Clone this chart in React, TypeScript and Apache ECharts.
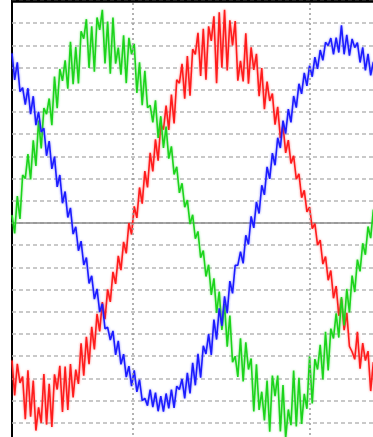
import React, { useEffect, useRef } from "react";
import * as echarts from "echarts";

// sample clock of the scope trace (ms)
const T0 = 3.2;
const DT = 0.15;

// vertical grid lines (ms)
const V_GRID = [10, 20];

const RED = [
  -6.19, -7.77, -6.34, -7.2, -6.92, -8.84, -6.64, -8.73, -7.1, -9.35,
  -8.3, -9.0, -6.8, -9.08, -7.24, -9.19, -6.82, -7.5, -6.43, -8.51,
  -6.47, -8.42, -6.35, -7.86, -6.6, -7.25, -5.42, -6.88, -5.13, -6.36,
  -4.68, -5.69, -4.09, -4.88, -3.56, -4.33, -2.99, -3.55, -2.2, -2.74,
  -1.48, -2.12, -0.85, -1.37, 0.0, -0.52, 0.75, 0.23, 1.6, 0.87,
  2.34, 1.6, 3.16, 2.32, 3.77, 2.81, 4.44, 4.2, 5.29, 4.19,
  5.79, 4.48, 6.45, 6.3, 7.17, 5.6, 7.52, 5.73, 7.83, 7.6,
  8.57, 6.62, 8.75, 6.46, 8.86, 8.2, 9.31, 6.3, 9.49, 7.0,
  9.6, 6.87, 9.13, 8.0, 9.1, 6.41, 7.3, 6.38, 8.54, 6.28,
  7.91, 6.9, 7.62, 5.71, 6.98, 5.13, 6.37, 5.5, 5.83, 4.43,
  5.23, 3.82, 4.39, 3.16, 3.73, 2.68, 3.03, 1.97, 2.21, 1.14,
  1.47, 0.5, 0.72, -0.25, -0.03, -1.0, -0.77, -1.85, -1.51, -2.58,
  -2.14, -3.39, -2.84, -4.18, -3.41, -4.83, -4.05, -5.56, -5.8, -6.14,
  -4.9, -6.56, -5.41, -6.2, -5.77, -7.57, -6.27, -7.84,
];

const GREEN = [
  0.35, -0.47, 1.21, 0.18, 2.16, 2.0, 3.1, 1.96, 3.72, 2.57,
  4.62, 3.36, 5.18, 4.9, 5.61, 4.41, 6.6, 5.17, 6.94, 6.4,
  7.33, 6.05, 8.16, 6.25, 7.93, 6.29, 8.64, 8.3, 9.18, 6.98,
  8.86, 6.82, 9.26, 8.7, 9.6, 7.19, 9.07, 6.72, 9.26, 7.18,
  7.9, 6.68, 8.45, 6.3, 8.34, 7.6, 8.07, 5.86, 7.24, 5.31,
  6.86, 5.19, 5.3, 4.53, 5.53, 3.83, 4.81, 3.38, 4.34, 2.9,
  3.45, 2.19, 2.53, 1.36, 1.79, 0.71, 1.03, -0.05, 0.37, -0.71,
  -0.38, -1.56, -1.24, -2.41, -1.88, -3.24, -2.49, -4.05, -3.09, -4.82,
  -3.65, -5.57, -4.17, -6.27, -6.0, -6.93, -5.19, -7.14, -5.37, -6.6,
  -6.1, -8.49, -6.36, -8.42, -7.6, -8.89, -7.1, -9.4, -6.87, -7.8,
  -6.87, -9.39, -7.3, -9.69, -8.4, -9.11, -6.65, -9.17, -6.97, -9.05,
  -7.7, -8.37, -6.01, -8.13, -6.13, -6.6, -5.49, -7.05, -4.9, -6.64,
  -4.76, -5.2, -4.07, -5.16, -3.34, -4.61, -2.97, -4.03, -2.37, -3.11,
  -1.65, -2.18, -0.91, -1.43, -0.16, -0.68, 0.6, 0.18,
];

const BLUE = [
  7.64, 6.45, 7.24, 5.92, 6.1, 5.33, 6.07, 4.9, 5.71, 4.41,
  5.01, 4.1, 4.27, 3.03, 3.69, 2.44, 2.99, 1.63, 2.16, 0.89,
  1.42, 0.25, 0.68, -0.5, -0.17, -1.25, -0.82, -1.89, -1.56, -2.72,
  -2.38, -3.43, -2.97, -4.01, -3.64, -4.76, -4.7, -5.27, -4.86, -5.94,
  -5.31, -6.37, -5.91, -6.94, -6.45, -7.35, -6.64, -7.61, -7.06, -8.0,
  -7.9, -8.23, -7.51, -8.29, -7.64, -8.48, -7.8, -8.5, -7.68, -8.35,
  -7.5, -8.33, -7.35, -7.5, -7.03, -7.9, -6.75, -7.68, -6.3, -7.31,
  -5.89, -6.97, -5.53, -5.9, -5.01, -5.94, -4.35, -5.25, -3.84, -4.63,
  -3.3, -4.06, -2.62, -3.17, -1.91, -1.9, -1.29, -1.82, -0.55, -0.97,
  0.3, -0.22, 0.95, 0.43, 1.7, 1.27, 2.53, 1.99, 3.15, 2.6,
  3.84, 3.38, 4.61, 4.03, 5.13, 4.53, 5.72, 5.2, 6.27, 5.82,
  6.76, 6.18, 7.09, 6.59, 7.47, 6.94, 7.79, 7.33, 8.14, 8.0,
  8.33, 7.6, 8.35, 7.68, 8.9, 7.6, 8.48, 7.54, 8.29, 7.9,
  8.13, 7.23, 7.91, 6.87, 7.62, 6.65, 7.26, 6.26,
];

const TIME = RED.map((_, i) => Number((T0 + DT * i).toFixed(2)));

const pairs = (vals: number[]) => TIME.map((t, i) => [t, vals[i]]);

export default function App() {
  const ref = useRef<HTMLDivElement>(null);

  useEffect(() => {
    if (!ref.current) return;
    const chart = echarts.init(ref.current, undefined, { renderer: "svg" });
    const lineBase = {
      type: "line" as const,
      showSymbol: false,
      symbol: "none",
      smooth: false,
      silent: true,
      clip: true,
    };
    chart.setOption({
      animation: false,
      backgroundColor: "#ffffff",
      grid: {
        left: 12,
        top: 1,
        right: 4,
        bottom: 5,
        containLabel: false,
        outerBoundsMode: "none",
        show: true,
        borderColor: "#000000",
        borderWidth: 2,
        backgroundColor: "transparent",
      },
      xAxis: {
        type: "value",
        min: T0,
        max: 23.75,
        splitLine: { show: false },
        axisTick: { show: false },
        axisLabel: { show: false },
        axisLine: {
          show: true,
          onZero: true,
          lineStyle: { color: "#8a8a8a", width: 1.5 },
        },
      },
      yAxis: {
        type: "value",
        min: -10,
        max: 10,
        interval: 1,
        axisLine: { show: false },
        axisTick: { show: false },
        axisLabel: { show: false },
        splitLine: {
          show: true,
          lineStyle: { color: "#b8b8b8", type: [4, 3], width: 1.5 },
        },
      },
      series: [
        {
          ...lineBase,
          name: "A",
          data: pairs(RED),
          lineStyle: {
            color: "#ff1a1a",
            width: 1.6,
            shadowBlur: 2,
            shadowColor: "rgba(255,60,60,0.6)",
          },
          markLine: {
            silent: true,
            symbol: ["none", "none"],
            label: { show: false },
            lineStyle: { color: "#999999", type: [2, 3], width: 1.5 },
            data: V_GRID.map((v) => ({ xAxis: v })),
          },
        },
        {
          ...lineBase,
          name: "B",
          data: pairs(GREEN),
          lineStyle: {
            color: "#1ed41e",
            width: 1.6,
            shadowBlur: 2,
            shadowColor: "rgba(60,220,60,0.6)",
          },
        },
        {
          ...lineBase,
          name: "C",
          data: pairs(BLUE),
          lineStyle: {
            color: "#1a1aff",
            width: 1.6,
            shadowBlur: 2,
            shadowColor: "rgba(60,60,255,0.6)",
          },
          markLine: {
            silent: true,
            symbol: ["none", "none"],
            label: { show: false },
            lineStyle: { color: "#000000", type: "solid", width: 2.5 },
            data: [{ yAxis: 10 }],
          },
        },
      ],
    });
    return () => chart.dispose();
  }, []);

  return (
    <div
      style={{
        position: "fixed",
        left: 0,
        top: 0,
        width: 373,
        height: 437,
        overflow: "hidden",
        background: "#fff",
      }}
    >
      <div ref={ref} style={{ width: 380, height: 450 }} />
    </div>
  );
}
